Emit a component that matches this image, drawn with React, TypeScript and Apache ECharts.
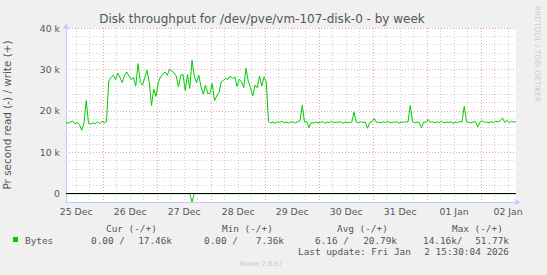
import { useEffect, useRef } from 'react';
import * as echarts from 'echarts';

const chartTitle = 'Disk throughput for /dev/pve/vm-107-disk-0 - by week';
const yAxisName = 'Pr second read (-) / write (+)';
const dayLabels = ['25 Dec', '26 Dec', '27 Dec', '28 Dec', '29 Dec', '30 Dec', '31 Dec', '01 Jan', '02 Jan'];
// hours since 25 Dec 00:00 where day labels are centred (noon)
const dayLabelHours = [12, 36, 60, 84, 108, 132, 156, 180, 204];
// 6-hour grid positions (hours since 25 Dec 00:00)
const gridHours = [12, 18, 24, 30, 36, 42, 48, 54, 60, 66, 72, 78, 84, 90, 96, 102, 108, 114, 120, 126, 132, 138, 144, 150, 156, 162, 168, 174, 180, 186, 192, 198, 204];
const startHour = 7.5;
const endHour = 207.5;
const stepHour = 1;

// write (+) throughput, k bytes/s, one value per hour from startHour
const writeK = [
  17.2, 17.0, 17.3, 17.5, 16.9, 17.2, 16.7, 15.3, 17.1, 22.5,
  17.0, 16.8, 17.1, 16.9, 17.4, 16.9, 17.5, 17.1, 17.4, 27.2,
  28.0, 28.6, 27.6, 29.1, 28.0, 26.8, 28.6, 29.4, 28.4, 27.6,
  28.0, 26.0, 31.4, 27.0, 26.2, 28.0, 29.8, 27.0, 21.3, 25.2,
  23.5, 26.8, 28.2, 28.8, 29.4, 28.6, 30.0, 29.6, 29.2, 28.4,
  25.8, 28.6, 28.8, 24.9, 28.8, 25.4, 32.2, 28.4, 26.8, 28.6,
  25.8, 24.0, 26.2, 24.2, 24.2, 26.6, 22.5, 23.6, 24.4, 27.0,
  27.4, 27.8, 27.6, 28.4, 27.8, 28.2, 25.9, 27.6, 27.0, 25.6,
  30.3, 27.2, 25.6, 23.6, 26.2, 25.6, 28.4, 26.0, 28.2, 27.0,
  17.4, 17.1, 17.3, 17.0, 17.4, 17.2, 17.5, 17.1, 17.3, 17.0,
  17.4, 17.2, 17.1, 17.4, 17.6, 21.3, 17.3, 17.4, 15.9, 17.2,
  17.0, 17.3, 17.1, 17.2, 17.4, 17.0, 17.3, 17.2, 17.5, 17.1,
  17.3, 17.2, 17.4, 17.0, 17.3, 17.1, 17.2, 17.3, 19.7, 17.3,
  17.1, 17.4, 17.2, 17.3, 15.8, 17.2, 17.4, 18.1, 17.2, 17.3,
  17.1, 17.4, 17.2, 17.5, 17.1, 17.3, 17.2, 17.4, 17.0, 17.3,
  17.2, 17.4, 17.3, 21.3, 17.4, 17.1, 17.3, 17.2, 15.9, 17.3,
  17.2, 17.9, 17.2, 17.4, 17.1, 17.3, 17.2, 17.5, 17.1, 17.3,
  17.2, 17.4, 17.0, 17.3, 17.2, 17.4, 17.3, 21.1, 17.4, 17.2,
  17.1, 17.3, 17.4, 16.1, 17.3, 17.6, 17.2, 17.3, 17.1, 17.4,
  17.2, 17.5, 17.3, 17.6, 18.3, 17.2, 17.7, 17.1, 17.5, 17.3,
  17.4,
];

// read (-) throughput, [hour, k bytes/s]
const readPoints: [number, number][] = [
  [7.5, 0], [62.5, 0], [63.5, -2.0], [64.5, 0], [207.5, 0],
];

const legendSeries = 'Bytes';
const legendHeaders = ['Cur (-/+)', 'Min (-/+)', 'Avg (-/+)', 'Max (-/+)'];
const legendReads = ['0.00 /', '0.00 /', '6.16 /', '14.16k/'];
const legendWrites = ['17.46k', '7.36k', '20.79k', '51.77k'];
const lastUpdateA = 'Last update: Fri Jan';
const lastUpdateB = '2 15:30:04 2026';

const GREEN = '#00cc00';
const GREY_GRID = '#cfcfcf';
const RED_GRID = '#f0a0a0';
const TEXT = '#555555';
const SANS = 'DejaVu Sans';
const MONO = 'DejaVu Sans Mono';

export default function App() {
  const ref = useRef<HTMLDivElement>(null);
  useEffect(() => {
    if (!ref.current) return;
    const chart = echarts.init(ref.current, null, { renderer: 'svg' });
    const writeData = writeK.map((v, i) => [startHour + i * stepHour, v * 1000]);
    const readData = readPoints.map(([h, v]) => [h, v * 1000]);
    const monoFont = `9.4px "${MONO}"`;
    const headerLeft = [106, 222, 337, 452];
    const readLeft = [91, 204, 315, 423];
    const writeRight = [172, 284, 397, 509];
    const graphics: any[] = [
      { type: 'text', x: 262, y: 19, style: { text: chartTitle, font: `12px "${SANS}"`, fill: TEXT, align: 'center', verticalAlign: 'middle' } },
      { type: 'text', x: 537, y: 54, rotation: -Math.PI / 2, style: { text: 'RRDTOOL / TOBI OETIKER', font: `7.5px "${SANS}"`, fill: '#cccccc', align: 'center', verticalAlign: 'middle' } },
      { type: 'rect', shape: { x: 13, y: 237, width: 5, height: 5 }, style: { fill: GREEN } },
      { type: 'text', x: 25, y: 240, style: { text: legendSeries, font: monoFont, fill: TEXT, align: 'left', verticalAlign: 'middle' } },
      { type: 'text', x: 298, y: 251, style: { text: lastUpdateA, font: monoFont, fill: TEXT, align: 'left', verticalAlign: 'middle' } },
      { type: 'text', x: 509, y: 251, style: { text: lastUpdateB, font: monoFont, fill: TEXT, align: 'right', verticalAlign: 'middle' } },
      { type: 'text', x: 261, y: 264, style: { text: 'Munin 2.0.57', font: `6.6px "${SANS}"`, fill: '#c8c8c8', align: 'center', verticalAlign: 'middle' } },
    ];
    legendHeaders.forEach((t, i) => graphics.push({ type: 'text', x: headerLeft[i], y: 228.5, style: { text: t, font: monoFont, fill: TEXT, align: 'left', verticalAlign: 'middle' } }));
    legendReads.forEach((t, i) => graphics.push({ type: 'text', x: readLeft[i], y: 240, style: { text: t, font: monoFont, fill: TEXT, align: 'left', verticalAlign: 'middle' } }));
    legendWrites.forEach((t, i) => graphics.push({ type: 'text', x: writeRight[i], y: 240, style: { text: t, font: monoFont, fill: TEXT, align: 'right', verticalAlign: 'middle' } }));

    chart.setOption({
      animation: false,
      backgroundColor: '#f0f0f0',
      grid: { left: 66, right: 31, top: 28, bottom: 73, show: true, backgroundColor: '#ffffff', borderWidth: 0, outerBoundsMode: 'none' },
      xAxis: {
        type: 'value',
        min: startHour,
        max: endHour,
        axisLine: { show: true, onZero: false, lineStyle: { color: '#c8c8ff', width: 1 }, symbol: ['none', 'arrow'], symbolSize: [5, 7], symbolOffset: [0, 5] },
        axisTick: { show: false, customValues: gridHours },
        axisLabel: {
          customValues: dayLabelHours,
          formatter: (v: number) => { const k = dayLabelHours.indexOf(Math.round(v)); return k >= 0 ? dayLabels[k] : ''; },
          color: TEXT, fontSize: 9.3, fontFamily: SANS, margin: 5,
        },
        splitLine: { show: true, lineStyle: { color: [GREY_GRID, GREY_GRID, RED_GRID, GREY_GRID], type: [1, 2], width: 1 } },
      },
      yAxis: {
        type: 'value',
        min: -2000,
        max: 40000,
        interval: 2000,
        name: yAxisName,
        nameLocation: 'middle',
        nameGap: 54,
        nameTextStyle: { color: TEXT, fontSize: 10.4, fontFamily: SANS },
        axisLine: { show: true, onZero: false, lineStyle: { color: '#c8c8ff', width: 1 }, symbol: ['none', 'arrow'], symbolSize: [5, 7], symbolOffset: [0, 5] },
        axisTick: { show: false },
        axisLabel: {
          formatter: (v: number) => (v % 10000 === 0 ? (v === 0 ? '0' : `${v / 1000} k`) : ''),
          color: TEXT, fontSize: 9.3, fontFamily: SANS, margin: 6,
        },
        splitLine: { show: true, lineStyle: { color: [GREY_GRID, RED_GRID, GREY_GRID, GREY_GRID, GREY_GRID], type: [1, 2], width: 1 } },
      },
      series: [
        {
          name: 'write',
          type: 'line',
          data: writeData,
          symbol: 'none',
          lineStyle: { color: GREEN, width: 1 },
          itemStyle: { color: GREEN },
        },
        {
          name: 'read',
          type: 'line',
          data: readData,
          symbol: 'none',
          lineStyle: { color: GREEN, width: 1 },
          itemStyle: { color: GREEN },
          z: 3,
          markLine: {
            silent: true,
            symbol: 'none',
            label: { show: false },
            lineStyle: { color: '#000000', type: 'solid', width: 1 },
            data: [{ yAxis: 0 }],
          },
        },
      ],
      graphic: graphics,
    });
    return () => chart.dispose();
  }, []);
  return <div ref={ref} style={{ position: 'fixed', left: 0, top: 0, width: 547, height: 275 }} />;
}
